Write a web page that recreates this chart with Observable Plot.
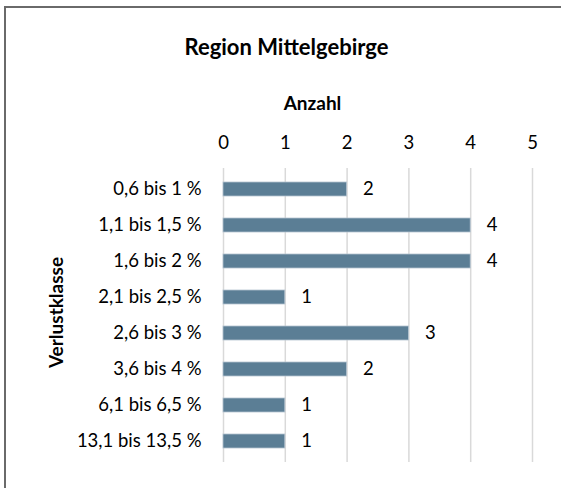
<!DOCTYPE html>
<html>
<head>
<meta charset="utf-8">
<script src="https://cdn.jsdelivr.net/npm/d3@7"></script>
<script src="https://cdn.jsdelivr.net/npm/@observablehq/plot@0.6"></script>
<style>
  html, body { margin: 0; padding: 0; background: #fff; overflow: hidden; }
  #chart { position: absolute; left: 0; top: 0; }
</style>
</head>
<body>
<div id="chart"></div>
<script>
const categories = ["0,6 bis 1 %", "1,1 bis 1,5 %", "1,6 bis 2 %", "2,1 bis 2,5 %", "2,6 bis 3 %", "3,6 bis 4 %", "6,1 bis 6,5 %", "13,1 bis 13,5 %"];
const values = [2, 4, 4, 1, 3, 2, 1, 1];
const xTicks = [0, 1, 2, 3, 4, 5];
const title = "Region Mittelgebirge";
const xTitle = "Anzahl";
const yTitle = "Verlustklasse";

const data = categories.map((c, i) => ({category: c, value: values[i]}));

const chart = Plot.plot({
  width: 561,
  height: 488,
  marginTop: 168,
  marginBottom: 26,
  marginLeft: 223,
  marginRight: 29,
  style: {fontFamily: "Lato, 'Open Sans', sans-serif", fontSize: "18.5px", color: "#000", background: "transparent"},
  x: {domain: [0, 5], axis: "top", ticks: xTicks, tickSize: 0, tickPadding: 20, label: null, tickFormat: d => String(d)},
  y: {domain: categories, paddingInner: 0.6, paddingOuter: 0.3, tickSize: 0, tickPadding: 22, label: null},
  marks: [
    Plot.ruleX(xTicks, {stroke: "#d9d9d9", strokeWidth: 1.5}),
    Plot.barX(data, {x: "value", y: "category", fill: "#5b7e95", stroke: "#b4c4d0", strokeWidth: 0.8}),
    Plot.text(data, {x: "value", y: "category", text: d => String(d.value), textAnchor: "start", dx: 16, fontSize: 18.5, fill: "#000"}),
    Plot.text([title], {frameAnchor: "top-left", textAnchor: "middle", lineAnchor: "middle", dx: 63, dy: -121, text: d => d, fontSize: 22, fontWeight: "bold", fill: "#000"}),
    Plot.text([xTitle], {frameAnchor: "top-left", textAnchor: "middle", lineAnchor: "middle", dx: 89, dy: -65, text: d => d, fontSize: 19, fontWeight: "bold", fill: "#000"}),
    Plot.text([yTitle], {frameAnchor: "left", textAnchor: "middle", lineAnchor: "middle", dx: -167, dy: -3, rotate: -90, text: d => d, fontSize: 19, fontWeight: "bold", fill: "#000"})
  ]
});
// chart border (decoration): only the left and top edges are visible in the reference
d3.select(chart).insert("path", ":first-child")
  .attr("d", "M5,490V7H563")
  .attr("fill", "none")
  .attr("stroke", "#6a6a6a")
  .attr("stroke-width", 2);
document.getElementById("chart").appendChild(chart);
</script>
</body>
</html>
